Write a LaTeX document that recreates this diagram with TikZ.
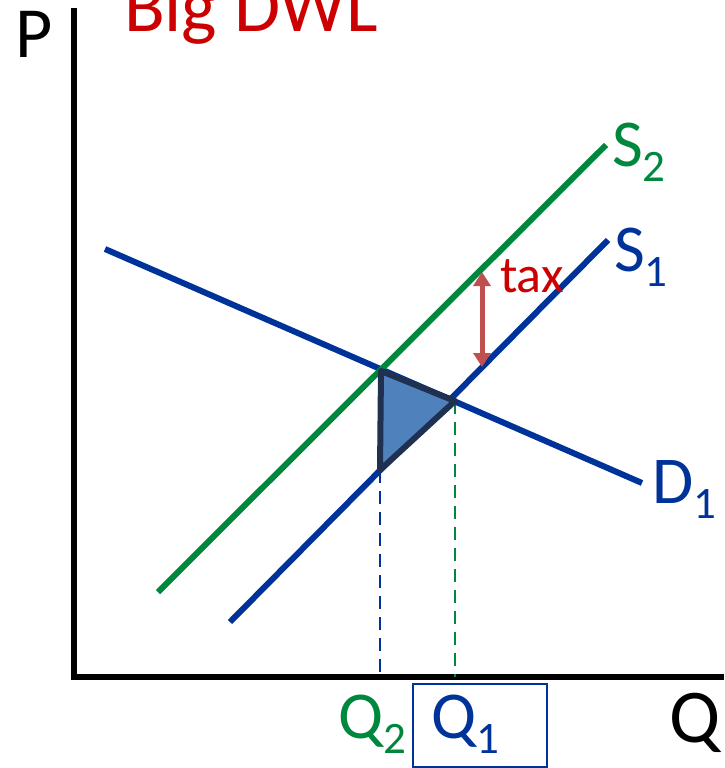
\documentclass[tikz,border=0pt]{standalone}
\usepackage{fontspec}
\setmainfont{Carlito}
\usetikzlibrary{arrows.meta}
\definecolor{dblue}{HTML}{003399}
\definecolor{dgreen}{HTML}{00873E}
\definecolor{tred}{HTML}{CC0000}
\definecolor{arred}{HTML}{C0504D}
\definecolor{trifill}{HTML}{4F81BD}
\definecolor{triedge}{HTML}{1F3050}
\newcommand{\sbs}[1]{\raisebox{-15pt}{\fontsize{45}{45}\selectfont #1}}
\begin{document}
\begin{tikzpicture}[x=1pt,y=-1pt,
  curve/.style={line width=6pt},
  axis/.style={line width=6pt,black},
  guide/.style={line width=2.8pt,dash pattern=on 13pt off 8pt},
  lbl/.style={anchor=base west,inner sep=0pt,outer sep=0pt},
  big/.style={font=\fontsize{67}{67}\selectfont}]
\useasboundingbox (0,0) rectangle (724,768);
% coordinates
\coordinate (ytop) at (74,8);
\coordinate (orig) at (74,677);
\coordinate (xend) at (724,677);
\coordinate (d0) at (105,249);
\coordinate (d1) at (642,483);
\coordinate (s20) at (158,592);
\coordinate (s21) at (606,145);
\coordinate (s10) at (230,622);
\coordinate (s11) at (608,240);
\coordinate (e2) at (381,371);
\coordinate (e1) at (455,401);
\coordinate (b) at (380,470);
\coordinate (q2) at (380,677);
\coordinate (q1) at (455,677);
\coordinate (tt) at (482,272);
\coordinate (tb) at (482,367);
% axes
\draw[axis] (ytop) -- (74,680);
\draw[axis] (71,677) -- (xend);
% curves
\draw[curve,dblue] (d0) -- (d1);
\draw[curve,dgreen] (s20) -- (s21);
\draw[curve,dblue] (s10) -- (s11);
% guides
\draw[guide,dblue] (b) -- (q2);
\draw[guide,dgreen] (e1) -- (q1);
% DWL triangle
\draw[line width=6pt,triedge,fill=trifill,line join=round] (e2) -- (e1) -- (b) -- cycle;
% tax arrow
\draw[line width=5pt,arred,{Triangle[length=14pt,width=17pt]}-{Triangle[length=14pt,width=17pt]}] (tt) -- (tb);
% labels
\node[lbl,font=\fontsize{72}{72}\selectfont] (P) at (16,58) {P};
\node[lbl,font=\fontsize{75}{75}\selectfont,text=tred] (title) at (124,32) {Big DWL};
\node[lbl,big,text=dgreen] (S2) at (612,166) {S\sbs{2}};
\node[lbl,big,text=dblue] (S1) at (614,271) {S\sbs{1}};
\node[lbl,big,text=dblue] (D1) at (652,503) {D\sbs{1}};
\node[lbl,font=\fontsize{52}{52}\selectfont,text=tred] (tax) at (500,292) {tax};
\node[lbl,big,text=dgreen] (Q2) at (338,738) {Q\sbs{2}};
\node[lbl,big,text=dblue] (Q1) at (431,738) {Q\sbs{1}};
\node[lbl,font=\fontsize{76}{76}\selectfont] (Q) at (669,742) {Q};
\node[draw=dblue,line width=1.5pt,inner sep=0pt,minimum width=134pt,minimum height=83pt] (box) at (480,725.5) {};
\end{tikzpicture}
\end{document}
